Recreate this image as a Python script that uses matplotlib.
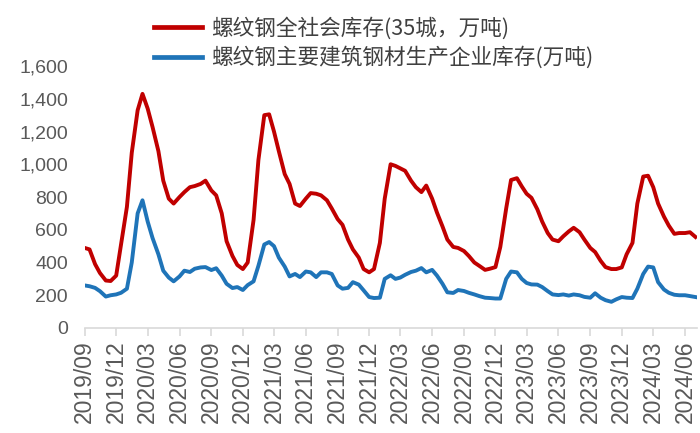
import numpy as np
import pandas as pd
import matplotlib
matplotlib.use("Agg")
import matplotlib.pyplot as plt
import matplotlib.dates as mdates
from matplotlib.ticker import FuncFormatter

plt.rcParams['font.family'] = ['Noto Sans CJK SC', 'DejaVu Sans']

# half-month readings, 2019-09-01 .. 2024-07-01
dates = pd.date_range('2019-09-01', periods=117, freq='SMS')

social = [489, 480, 390, 336, 290, 287, 320, 510, 740, 1070,
          1330, 1430, 1340, 1228, 1080, 900, 790, 760, 800, 830,
          860, 867, 880, 900, 840, 810, 700, 530, 440, 385,
          360, 400, 660, 1026, 1300, 1305, 1200, 1080, 940, 880,
          760, 745, 790, 824, 820, 810, 780, 730, 665, 630,
          540, 480, 430, 360, 340, 360, 520, 790, 1000, 990,
          975, 960, 900, 860, 830, 870, 790, 705, 620, 540,
          495, 489, 470, 440, 400, 380, 355, 362, 372, 495,
          730, 904, 915, 865, 820, 795, 725, 650, 580, 540,
          530, 560, 590, 612, 585, 540, 489, 464, 410, 372,
          360, 360, 370, 450, 520, 760, 925, 930, 860, 760,
          680, 625, 575, 580, 580, 585, 556]

plant = [260, 255, 245, 225, 192, 200, 205, 215, 240, 400,
         700, 780, 650, 550, 450, 350, 308, 285, 315, 350,
         342, 362, 370, 372, 354, 365, 320, 270, 244, 250,
         232, 262, 285, 380, 510, 525, 500, 430, 375, 315,
         330, 311, 345, 340, 311, 340, 340, 330, 260, 240,
         245, 280, 265, 230, 189, 183, 185, 300, 322, 300,
         308, 325, 342, 350, 366, 340, 355, 320, 270, 218,
         214, 232, 226, 215, 205, 195, 185, 183, 180, 180,
         300, 345, 340, 300, 275, 266, 265, 250, 225, 205,
         201, 205, 198, 205, 200, 190, 185, 212, 185, 170,
         160, 175, 189, 185, 183, 240, 330, 375, 370, 280,
         235, 215, 203, 200, 200, 195, 189]

labels = ['螺纹钢全社会库存(35城，万吨)', '螺纹钢主要建筑钢材生产企业库存(万吨)']
yticks = np.arange(0, 1601, 200)
xticks = pd.date_range('2019-09-01', '2024-06-01', freq='3MS')

fig = plt.figure(figsize=(7, 4.33), dpi=100)
ax = fig.add_axes([0.121, 0.2425, 0.875, 0.605])

ax.plot(dates, social, color='#C00000', lw=2.8, label=labels[0], solid_joinstyle='round')
ax.plot(dates, plant, color='#1F74B8', lw=2.8, label=labels[1], solid_joinstyle='round')

ax.set_ylim(0, 1600)
ax.set_yticks(yticks)
ax.yaxis.set_major_formatter(FuncFormatter(lambda v, p: f'{int(v):,}'))
ax.set_xlim(pd.Timestamp('2019-09-01'), pd.Timestamp('2024-07-06'))
ax.set_xticks(xticks)
ax.xaxis.set_major_formatter(mdates.DateFormatter('%Y/%m'))

for s in ['top', 'right', 'left']:
    ax.spines[s].set_visible(False)
ax.spines['bottom'].set_color('#d9d9d9')
ax.spines['bottom'].set_linewidth(1.2)
ax.tick_params(axis='y', length=0, pad=12, labelcolor='#595959')
ax.tick_params(axis='x', length=6, width=1.2, color='#d9d9d9', pad=3, labelcolor='#595959')
for t in ax.get_yticklabels():
    t.set_family(['Liberation Sans', 'DejaVu Sans'])
    t.set_fontsize(14)
for t in ax.get_xticklabels():
    t.set_family(['Liberation Sans', 'DejaVu Sans'])
    t.set_fontsize(16.5)
    t.set_rotation(90)

leg = fig.legend(loc='upper left', bbox_to_anchor=(0.195, 1.0), frameon=False,
                 prop={'family': ['Noto Sans CJK SC', 'DejaVu Sans'], 'size': 15.6},
                 handlelength=2.2, handletextpad=0.45, labelspacing=0.3, borderpad=0.3)
for t in leg.get_texts():
    t.set_color('#404040')
for l in leg.get_lines():
    l.set_linewidth(3.4)

fig.savefig('out.png', dpi=100)
